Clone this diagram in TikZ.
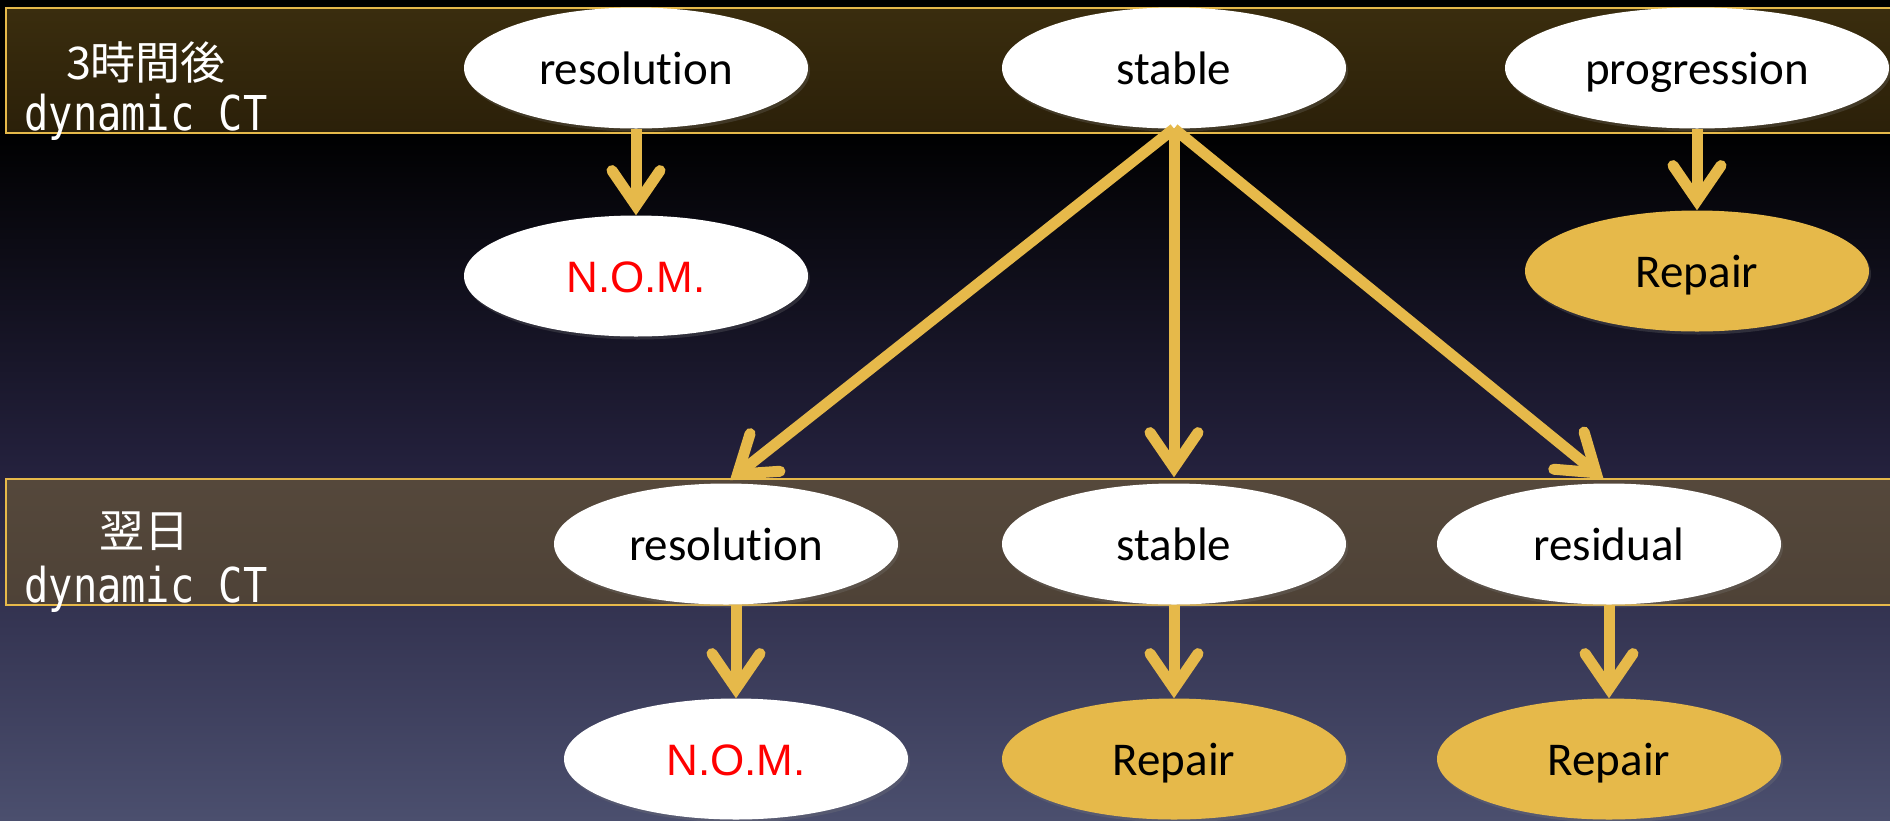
\documentclass[tikz,border=0pt]{standalone}
\usepackage{fontspec}
\setmainfont{Carlito}[Ligatures=NoCommon]
\newfontfamily\jpfont{Noto Sans CJK JP}
\newfontfamily\monofont[FakeStretch=0.84]{DejaVu Sans Mono}
\newfontfamily\arialfont{Liberation Sans}
\usetikzlibrary{arrows.meta,shapes.geometric,shadows}
\definecolor{gold}{HTML}{E6B94A}
\definecolor{bgmid}{HTML}{25223F}
\definecolor{bgbot}{HTML}{4B4F6E}
\definecolor{bandAtop}{HTML}{3A2D0E}
\definecolor{bandAbot}{HTML}{2B2009}
\definecolor{bandBtop}{HTML}{55483B}
\definecolor{bandBbot}{HTML}{4E4237}
\definecolor{nomred}{HTML}{FF0000}
\tikzset{
  oval/.style={ellipse, fill=white, minimum width=344pt, minimum height=121pt, inner sep=0pt,
    font=\fontsize{47}{56}\selectfont, text height=32pt, text depth=0pt,
    drop shadow={opacity=0.25, shadow xshift=2pt, shadow yshift=-3pt}},
  goldoval/.style={oval, fill=gold},
  conn/.style={draw=gold, line width=11pt,
    -{Straight Barb[length=35pt,width=48pt,line cap=round,line join=miter]}},
  bandbox/.style={draw=gold, line width=2.5pt},
  jp/.style={font=\jpfont\fontsize{45}{54}\selectfont, text=white, inner sep=0pt},
  mono/.style={font=\monofont\fontsize{48}{56}\selectfont, text=white, inner sep=0pt},
}
\newcommand\nomlabel{{\arialfont\fontsize{44}{52}\selectfont\color{nomred}N.O.M.}}
\begin{document}
\begin{tikzpicture}[x=1pt,y=-1pt]
\useasboundingbox (0,0) rectangle (1890,820);
% background
\fill[black] (0,0) rectangle (1890,131);
\shade[top color=black, bottom color=bgmid] (0,130) rectangle (1890,480);
\shade[top color=bgmid, bottom color=bgbot] (0,479) rectangle (1890,820);
% bands
\shade[bandbox, top color=bandAtop, bottom color=bandAbot] (6,8) rectangle (1900,133);
\shade[bandbox, top color=bandBtop, bottom color=bandBbot] (6,479) rectangle (1900,605);
% left labels
\node[jp, anchor=base] (lab1a) at (146,79) {3時間後};
\node[mono, anchor=base] (lab1b) at (146,130) {dynamic CT};
\node[jp, anchor=base] (lab2a) at (144,547) {翌日};
\node[mono, anchor=base] (lab2b) at (146,602) {dynamic CT};
% top row
\node[oval] (res1) at (636,68) {resolution};
\node[oval] (stab1) at (1174,68) {stable};
\node[oval, minimum width=384pt] (prog1) at (1697,68) {progression};
\node[oval] (nom1) at (636,276) {\nomlabel};
\node[goldoval] (rep1) at (1697,271) {Repair};
% second row
\node[oval] (res2) at (726,544) {resolution};
\node[oval] (stab2) at (1174,544) {stable};
\node[oval] (resid2) at (1609,544) {residual};
\node[oval] (nom2) at (736,759) {\nomlabel};
\node[goldoval] (rep2) at (1174,759) {Repair};
\node[goldoval] (rep3) at (1609,759) {Repair};
% connectors
\draw[conn] (res1.south) -- (nom1.north);
\draw[conn] (prog1.south -| rep1.north) -- (rep1.north);
\draw[conn, shorten >=5pt] (stab1.south) -- (res2.north);
\draw[conn, shorten >=6pt] (stab1.south) -- (stab2.north);
\draw[conn, shorten >=7pt] (stab1.south) -- (resid2.north);
\draw[conn] (res2.south -| nom2.north) -- (nom2.north);
\draw[conn] (stab2.south) -- (rep2.north);
\draw[conn] (resid2.south) -- (rep3.north);
\end{tikzpicture}
\end{document}
